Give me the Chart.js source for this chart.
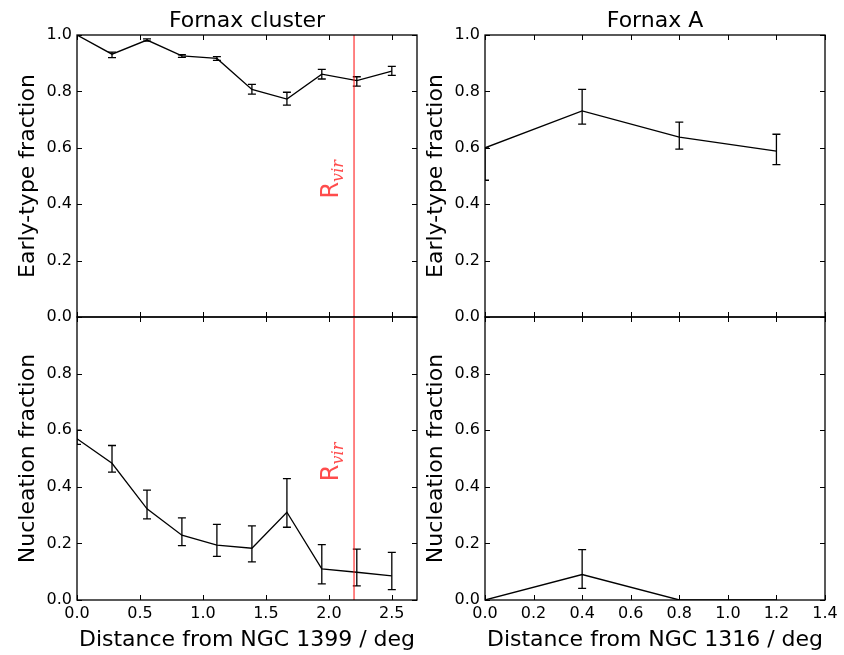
<!DOCTYPE html>
<html>
<head>
<meta charset="utf-8">
<title>Fornax</title>
<script src="https://cdn.jsdelivr.net/npm/chart.js@4/dist/chart.umd.min.js"></script>
<style>
  html, body { margin: 0; background: #fff; }
  #figura { position: relative; width: 844px; height: 655px; }
  #figura canvas { position: absolute; left: 0; top: 0; }
</style>
</head>
<body>
<div id="figura">
  <canvas id="panel-cumulo-tipo" width="844" height="655"></canvas>
  <canvas id="panel-a-tipo" width="844" height="655"></canvas>
  <canvas id="panel-cumulo-nucleo" width="844" height="655"></canvas>
  <canvas id="panel-a-nucleo" width="844" height="655"></canvas>
</div>
<script>
// Fornax cluster, distance from NGC 1399 (deg)
const distCumulo = [0, 0.278, 0.556, 0.833, 1.111, 1.389, 1.667, 1.944, 2.222, 2.5];
const tipoCumulo = [1.0, 0.932, 0.982, 0.926, 0.917, 0.807, 0.773, 0.861, 0.838, 0.872];
const tipoCumuloInf = [1.0, 0.920, 0.978, 0.921, 0.910, 0.790, 0.751, 0.844, 0.819, 0.857];
const tipoCumuloSup = [1.0, 0.939, 0.986, 0.930, 0.923, 0.825, 0.797, 0.878, 0.852, 0.889];
const nucleoCumulo = [0.570, 0.483, 0.322, 0.229, 0.194, 0.183, 0.310, 0.110, 0.098, 0.085];
const nucleoCumuloInf = [0.550, 0.452, 0.287, 0.192, 0.154, 0.135, 0.257, 0.057, 0.050, 0.037];
const nucleoCumuloSup = [0.600, 0.546, 0.388, 0.290, 0.267, 0.262, 0.429, 0.196, 0.180, 0.168];
const radioVirial = 2.2;

// Fornax A, distance from NGC 1316 (deg)
const distA = [0, 0.4, 0.8, 1.2];
const tipoA = [0.600, 0.731, 0.638, 0.588];
const tipoAInf = [0.485, 0.684, 0.595, 0.540];
const tipoASup = [0.600, 0.807, 0.691, 0.648];
const nucleoA = [0, 0.090, 0, 0];
const nucleoAInf = [0, 0.041, 0, 0];
const nucleoASup = [0, 0.178, 0, 0];

const FUENTE = "'DejaVu Sans', sans-serif";

// marco y marcas hacia dentro, estilo matplotlib clasico
const marcoPlugin = {
    id: "marco",
    afterDraw(chart) {
        const { ctx, chartArea: a, scales } = chart;
        ctx.save();
        ctx.strokeStyle = "#000";
        ctx.lineWidth = 1.3;
        ctx.strokeRect(a.left, a.top, a.right - a.left, a.bottom - a.top);
        ctx.lineWidth = 1;
        ctx.beginPath();
        scales.x.ticks.forEach((t) => {
            const px = Math.round(scales.x.getPixelForValue(t.value)) + 0.5;
            ctx.moveTo(px, a.bottom);
            ctx.lineTo(px, a.bottom - 5);
            ctx.moveTo(px, a.top);
            ctx.lineTo(px, a.top + 5);
        });
        scales.y.ticks.forEach((t) => {
            const py = Math.round(scales.y.getPixelForValue(t.value)) + 0.5;
            ctx.moveTo(a.left, py);
            ctx.lineTo(a.left + 5, py);
            ctx.moveTo(a.right, py);
            ctx.lineTo(a.right - 5, py);
        });
        ctx.stroke();
        ctx.restore();
    }
};

const barrasPlugin = {
    id: "barras",
    afterDatasetsDraw(chart) {
        const { ctx, chartArea: a, scales: { x, y } } = chart;
        ctx.save();
        ctx.beginPath();
        ctx.rect(a.left, a.top, a.right - a.left, a.bottom - a.top);
        ctx.clip();
        ctx.strokeStyle = "#000";
        ctx.lineWidth = 1.3;
        ctx.beginPath();
        chart.data.datasets.forEach((ds) => {
            ds.data.forEach((p, i) => {
                if (ds.errInf[i] === ds.errSup[i]) return;
                const px = x.getPixelForValue(p.x);
                const y1 = y.getPixelForValue(ds.errInf[i]);
                const y2 = y.getPixelForValue(ds.errSup[i]);
                ctx.moveTo(px, y1);
                ctx.lineTo(px, y2);
                ctx.moveTo(px - 4, y1);
                ctx.lineTo(px + 4, y1);
                ctx.moveTo(px - 4, y2);
                ctx.lineTo(px + 4, y2);
            });
        });
        ctx.stroke();
        ctx.restore();
    }
};

const rvirPlugin = {
    id: "rvir",
    afterDatasetsDraw(chart, args, opts) {
        if (opts.x === undefined) return;
        const { ctx, chartArea: a, scales: { x, y } } = chart;
        const px = x.getPixelForValue(opts.x);
        ctx.save();
        ctx.strokeStyle = "rgba(255, 0, 0, 0.75)";
        ctx.lineWidth = 1.3;
        ctx.beginPath();
        ctx.moveTo(px, a.top);
        ctx.lineTo(px, a.bottom);
        ctx.stroke();
        ctx.translate(px - 16, y.getPixelForValue(opts.y));
        ctx.rotate(-Math.PI / 2);
        ctx.fillStyle = "rgba(255, 0, 0, 0.7)";
        ctx.textBaseline = "alphabetic";
        ctx.font = "24px " + FUENTE;
        ctx.fillText("R", 0, 0);
        const w = ctx.measureText("R").width;
        ctx.font = "italic 16px 'DejaVu Serif', serif";
        ctx.fillText("vir", w, 5);
        ctx.restore();
    }
};

function crearPanel(id, cfg) {
    const fuenteTicks = { family: FUENTE, size: 16 };
    const fuenteTitulo = { family: FUENTE, size: 22, weight: "normal" };
    return new Chart(document.getElementById(id), {
        type: "line",
        data: {
            datasets: [{
                data: cfg.x.map((v, i) => ({ x: v, y: cfg.y[i] })),
                errInf: cfg.inf,
                errSup: cfg.sup,
                borderColor: "#000",
                borderWidth: 1.3,
                pointRadius: 0,
                tension: 0,
                fill: false
            }]
        },
        options: {
            responsive: false,
            animation: false,
            layout: { padding: cfg.padding },
            plugins: {
                legend: { display: false },
                tooltip: { enabled: false },
                title: {
                    display: !!cfg.titulo,
                    text: cfg.titulo || "",
                    fullSize: false,
                    color: "#000",
                    font: fuenteTitulo,
                    padding: { top: 8, bottom: 0.6 }
                },
                rvir: cfg.rvir ? { x: radioVirial, y: 0.42 } : {}
            },
            scales: {
                x: {
                    type: "linear",
                    min: 0,
                    max: cfg.xMax,
                    border: { display: false },
                    grid: { display: false, drawTicks: false },
                    ticks: {
                        display: !!cfg.xTitulo,
                        stepSize: cfg.xPaso,
                        includeBounds: false,
                        autoSkip: false,
                        maxRotation: 0,
                        padding: 4,
                        color: "#000",
                        font: fuenteTicks,
                        callback: (v) => v.toFixed(1)
                    },
                    title: {
                        display: !!cfg.xTitulo,
                        text: cfg.xTitulo || "",
                        color: "#000",
                        font: fuenteTitulo,
                        padding: { top: 0, bottom: 2 }
                    },
                    afterFit: (s) => { s.height = cfg.xTitulo ? 55 : 0; }
                },
                y: {
                    min: 0,
                    max: 1,
                    border: { display: false },
                    grid: { display: false, drawTicks: false },
                    ticks: {
                        stepSize: 0.2,
                        padding: 5,
                        color: "#000",
                        font: fuenteTicks,
                        callback: (v) => (cfg.sinUno && v > 0.99) ? "" : v.toFixed(1)
                    },
                    title: {
                        display: true,
                        text: cfg.yTitulo,
                        color: "#000",
                        font: fuenteTitulo,
                        padding: { top: 15, bottom: 0 }
                    },
                    afterFit: (s) => { s.width = 77; }
                }
            }
        },
        plugins: [barrasPlugin, rvirPlugin, marcoPlugin]
    });
}

crearPanel("panel-cumulo-tipo", {
    x: distCumulo, y: tipoCumulo, inf: tipoCumuloInf, sup: tipoCumuloSup,
    xMax: 2.7, xPaso: 0.5, titulo: "Fornax cluster", yTitulo: "Early-type fraction",
    rvir: true, padding: { left: 0, top: 0, right: 427, bottom: 338 }
});
crearPanel("panel-a-tipo", {
    x: distA, y: tipoA, inf: tipoAInf, sup: tipoASup,
    xMax: 1.4, xPaso: 0.2, titulo: "Fornax A", yTitulo: "Early-type fraction",
    padding: { left: 408, top: 0, right: 19, bottom: 338 }
});
crearPanel("panel-cumulo-nucleo", {
    x: distCumulo, y: nucleoCumulo, inf: nucleoCumuloInf, sup: nucleoCumuloSup,
    xMax: 2.7, xPaso: 0.5, yTitulo: "Nucleation fraction", sinUno: true,
    xTitulo: "Distance from NGC 1399 / deg",
    rvir: true, padding: { left: 0, top: 317, right: 427, bottom: 0 }
});
crearPanel("panel-a-nucleo", {
    x: distA, y: nucleoA, inf: nucleoAInf, sup: nucleoASup,
    xMax: 1.4, xPaso: 0.2, yTitulo: "Nucleation fraction", sinUno: true,
    xTitulo: "Distance from NGC 1316 / deg",
    padding: { left: 408, top: 317, right: 19, bottom: 0 }
});
</script>
</body>
</html>
